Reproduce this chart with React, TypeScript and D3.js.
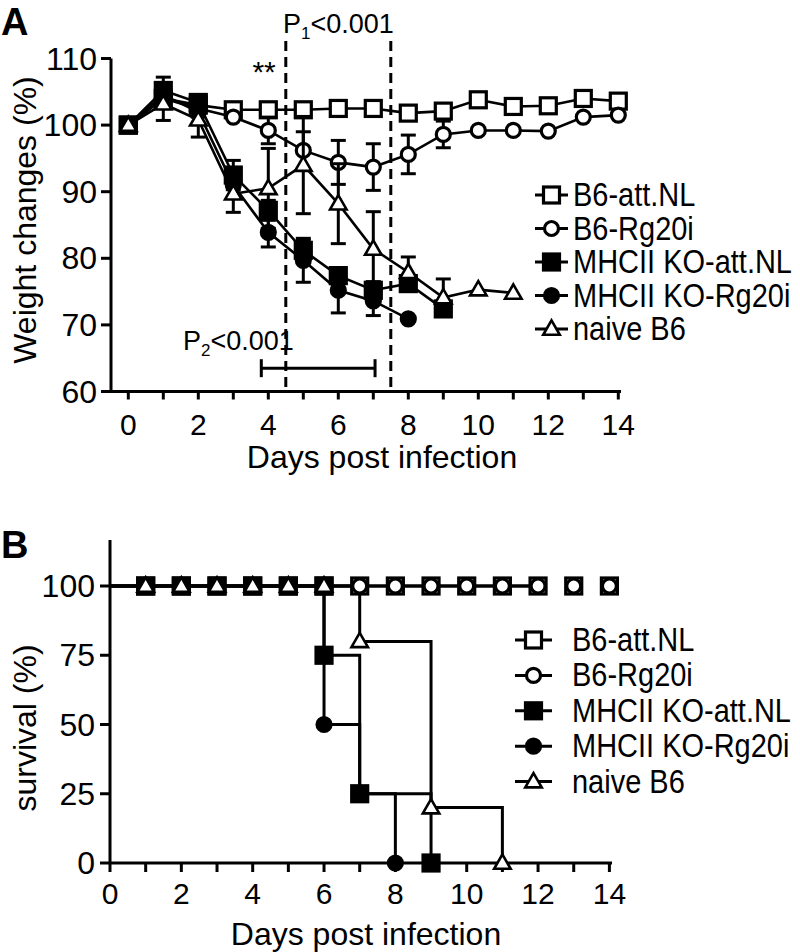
import React from 'react'
import * as d3 from 'd3'

// ---- data ----
const days = [0, 1, 2, 3, 4, 5, 6, 7, 8, 9, 10, 11, 12, 13, 14]
const groups = ['B6-att.NL', 'B6-Rg20i', 'MHCII KO-att.NL', 'MHCII KO-Rg20i', 'naive B6']
const shapes = ['square', 'circle', 'square', 'circle', 'triangle']
const fills = ['#fff', '#fff', '#000', '#000', '#fff']

// panel A: weight changes (%) and SEM, one value per day (null = no data)
const wB6Att = [100, 104, 103, 102.3, 102.3, 102.3, 102.5, 102.5, 101.8, 102.1, 103.8, 102.8, 102.9, 104, 103.6]
const eB6Att = [0.3, 1, 0.8, 0.5, 0.5, 0.5, 0.5, 0.5, 0.5, 0.5, 0.5, 0.5, 0.5, 0.5, 0.5]
const wB6Rg = [100, 104, 102.5, 101.2, 99.2, 96.2, 94.4, 93.7, 95.6, 98.6, 99.2, 99.2, 99.1, 101.2, 101.5]
const eB6Rg = [0.3, 1, 0.8, 0.6, 2, 2.8, 3.3, 3.5, 2.9, 2, 0.5, 0.5, 0.5, 0.5, 0.5]
const wKoAtt = [100, 105.2, 103.4, 92.5, 87.2, 81.2, 77.4, 75.2, 76.2, 72.4, null, null, null, null, null]
const eKoAtt = [0.3, 2, 0.8, 2.2, 1.5, 1.5, 1.2, 1.3, 0.6, 0.5, 0, 0, 0, 0, 0]
const wKoRg = [100, 104.5, 102, 91, 83.9, 79.7, 75.2, 73.6, 70.9, null, null, null, null, null, null]
const eKoRg = [0.3, 1.5, 0.8, 2, 2.2, 3.3, 3.4, 2.2, 0.3, 0, 0, 0, 0, 0, 0]
const wNaive = [100, 103.2, 100.8, 89.7, 90.5, 94, 88.2, 81.4, 77.9, 74.1, 75.3, 74.8, null, null, null]
const eNaive = [0.3, 2.5, 2.6, 2.8, 6, 7.3, 6, 5.6, 2.3, 2.8, 0.5, 0.5, 0, 0, 0]
const weightVals = [wB6Att, wB6Rg, wKoAtt, wKoRg, wNaive]
const weightErrs = [eB6Att, eB6Rg, eKoAtt, eKoRg, eNaive]

const yTicksA = [60, 70, 80, 90, 100, 110]
const xLabelTicks = [0, 2, 4, 6, 8, 10, 12, 14]
const pLineDays = [4.5, 7.5]
const p2Bracket = [3.8, 7.05]

// panel B: Kaplan-Meier steps (day of change, survival %) and plotted symbols
const sB6AttT = [0, 12]; const sB6AttV = [100, 100]
const sB6RgT = [0, 12]; const sB6RgV = [100, 100]
const sKoAttT = [0, 6, 7, 9]; const sKoAttV = [100, 75, 25, 0]
const sKoRgT = [0, 6, 7, 8]; const sKoRgV = [100, 50, 25, 0]
const sNaiveT = [0, 7, 9, 11]; const sNaiveV = [100, 80, 20, 0]
const mB6AttD = [1, 2, 3, 4, 5, 6, 7, 8, 9, 10, 11, 12, 13, 14]; const mB6AttV = mB6AttD.map(() => 100)
const mB6RgD = [1, 2, 3, 4, 5, 6, 7, 8, 9, 10, 11, 12, 13, 14]; const mB6RgV = mB6RgD.map(() => 100)
const mKoAttD = [1, 2, 3, 4, 5, 6, 6, 7, 9]; const mKoAttV = [100, 100, 100, 100, 100, 100, 75, 25, 0]
const mKoRgD = [1, 2, 3, 4, 5, 6, 8]; const mKoRgV = [100, 100, 100, 100, 100, 50, 0]
const mNaiveD = [1, 2, 3, 4, 5, 6, 7, 9, 11]; const mNaiveV = [100, 100, 100, 100, 100, 100, 80, 20, 0]
const survT = [sB6AttT, sB6RgT, sKoAttT, sKoRgT, sNaiveT]
const survV = [sB6AttV, sB6RgV, sKoAttV, sKoRgV, sNaiveV]
const markD = [mB6AttD, mB6RgD, mKoAttD, mKoRgD, mNaiveD]
const markV = [mB6AttV, mB6RgV, mKoAttV, mKoRgV, mNaiveV]
const yTicksB = [0, 25, 50, 75, 100]

const font = "'Liberation Sans', Arial, Helvetica, sans-serif"

const xA = d3.scaleLinear().domain([0, 14]).range([128.3, 618.3])
const yA = d3.scaleLinear().domain([60, 110]).range([391.5, 58.5])
const xB = d3.scaleLinear().domain([0, 14]).range([110, 609.4])
const yB = d3.scaleLinear().domain([0, 100]).range([863, 586])

const triPath = d3.symbol().type(d3.symbolTriangle).size(118)()

function Marker({ shape, fill, x, y }: { shape: string; fill: string; x: number; y: number }) {
  if (shape === 'square')
    return <rect x={x - 8} y={y - 8} width={16} height={16} fill={fill} stroke="#000" strokeWidth={3.2} />
  if (shape === 'circle') return <circle cx={x} cy={y} r={7} fill={fill} stroke="#000" strokeWidth={3.2} />
  return <path d={triPath as string} transform={`translate(${x},${y + 1})`} fill={fill} stroke="#000" strokeWidth={2.6} strokeLinejoin="miter" />
}

function Legend({ y0, step, lineL, lineR, textX }: { y0: number; step: number; lineL: number; lineR: number; textX: number }) {
  return (
    <g>
      {groups.map((g, i) => {
        const y = y0 + i * step
        const cx = (lineL + lineR) / 2
        return (
          <g key={g}>
            <line x1={lineL} x2={lineR} y1={y} y2={y} stroke="#000" strokeWidth={3} />
            <Marker shape={shapes[i]} fill={fills[i]} x={cx} y={y} />
            <text transform={`translate(${textX},${y}) scale(1,1.12)`} dominantBaseline="central" fontSize={29} fontFamily={font}>{g}</text>
          </g>
        )
      })}
    </g>
  )
}

function PanelA() {
  const line = d3.line<number | null>()
    .defined((d) => d !== null)
    .x((_, i) => xA(days[i]))
    .y((d) => yA(d as number))
  return (
    <g>
      <text x={1} y={35} fontSize={38} fontWeight="bold" fontFamily={font}>A</text>
      {/* axes */}
      <line x1={111} x2={111} y1={yA(110)} y2={yA(60)} stroke="#000" strokeWidth={3} />
      <line x1={111} x2={621} y1={yA(60)} y2={yA(60)} stroke="#000" strokeWidth={3} />
      {yTicksA.map((t) => (
        <g key={t}>
          <line x1={101} x2={111} y1={yA(t)} y2={yA(t)} stroke="#000" strokeWidth={3} />
          <text x={97} y={yA(t)} textAnchor="end" dominantBaseline="central" fontSize={32} fontFamily={font}>{t}</text>
        </g>
      ))}
      {days.map((d) => (
        <line key={d} x1={xA(d)} x2={xA(d)} y1={yA(60)} y2={yA(60) + 8} stroke="#000" strokeWidth={3} />
      ))}
      {xLabelTicks.map((d) => (
        <text key={d} x={xA(d)} y={424} textAnchor="middle" dominantBaseline="central" fontSize={30} fontFamily={font}>{d}</text>
      ))}
      <text x={382} y={468} textAnchor="middle" fontSize={32} fontFamily={font}>Days post infection</text>
      <text transform="translate(36,220) rotate(-90)" textAnchor="middle" fontSize={32} fontFamily={font}>Weight changes (%)</text>
      {/* significance annotations */}
      {pLineDays.map((d) => (
        <line key={d} x1={xA(d)} x2={xA(d)} y1={41} y2={yA(60)} stroke="#000" strokeWidth={3} strokeDasharray="10,6" />
      ))}
      <text x={xA(4.42)} y={33} fontSize={27} fontFamily={font}>P<tspan fontSize={17} dy={6}>1</tspan><tspan dy={-6}>&lt;0.001</tspan></text>
      <text x={xA(3.88)} y={yA(106.5)} textAnchor="middle" fontSize={30} fontFamily={font}>**</text>
      <text x={xA(1.56)} y={350} fontSize={27} fontFamily={font}>P<tspan fontSize={17} dy={6}>2</tspan><tspan dy={-6}>&lt;0.001</tspan></text>
      <g stroke="#000" strokeWidth={3}>
        <line x1={xA(p2Bracket[0])} x2={xA(p2Bracket[1])} y1={yA(63.5)} y2={yA(63.5)} />
        {p2Bracket.map((d) => (
          <line key={d} x1={xA(d)} x2={xA(d)} y1={yA(63.5) - 9} y2={yA(63.5) + 9} />
        ))}
      </g>
      {/* series */}
      {weightVals.map((vals, si) => (
        <g key={si}>
          {vals.map((v, i) => {
            const e = weightErrs[si][i]
            if (v === null || e < 0.8) return null
            const x = xA(days[i])
            return (
              <g key={i} stroke="#000" strokeWidth={3}>
                <line x1={x} x2={x} y1={yA(v + e)} y2={yA(v - e)} />
                <line x1={x - 7.5} x2={x + 7.5} y1={yA(v + e)} y2={yA(v + e)} />
                <line x1={x - 7.5} x2={x + 7.5} y1={yA(v - e)} y2={yA(v - e)} />
              </g>
            )
          })}
          <path d={line(vals) as string} fill="none" stroke="#000" strokeWidth={2.6} />
          {vals.map((v, i) =>
            v === null ? null : <Marker key={i} shape={shapes[si]} fill={fills[si]} x={xA(days[i])} y={yA(v)} />
          )}
        </g>
      ))}
      <Legend y0={195} step={33.5} lineL={535} lineR={568} textX={573} />
    </g>
  )
}

function PanelB() {
  const step = (ts: number[], vs: number[]) => {
    const pts: [number, number][] = []
    ts.forEach((t, i) => {
      if (i > 0) pts.push([t, vs[i - 1]])
      pts.push([t, vs[i]])
    })
    return d3.line().x((p) => xB(p[0])).y((p) => yB(p[1]))(pts) as string
  }
  return (
    <g>
      <text x={1} y={558} fontSize={38} fontWeight="bold" fontFamily={font}>B</text>
      <line x1={110} x2={110} y1={540} y2={yB(0)} stroke="#000" strokeWidth={3} />
      <line x1={110} x2={612} y1={yB(0)} y2={yB(0)} stroke="#000" strokeWidth={3} />
      {yTicksB.map((t) => (
        <g key={t}>
          <line x1={100} x2={110} y1={yB(t)} y2={yB(t)} stroke="#000" strokeWidth={3} />
          <text x={95} y={yB(t)} textAnchor="end" dominantBaseline="central" fontSize={32} fontFamily={font}>{t}</text>
        </g>
      ))}
      {days.map((d) => (
        <line key={d} x1={xB(d)} x2={xB(d)} y1={yB(0)} y2={yB(0) + 9} stroke="#000" strokeWidth={3} />
      ))}
      {xLabelTicks.map((d) => (
        <text key={d} x={xB(d)} y={893} textAnchor="middle" dominantBaseline="central" fontSize={30} fontFamily={font}>{d}</text>
      ))}
      <text x={366} y={945} textAnchor="middle" fontSize={32} fontFamily={font}>Days post infection</text>
      <text transform="translate(36,728) rotate(-90)" textAnchor="middle" fontSize={32} fontFamily={font}>survival (%)</text>
      {survT.map((ts, si) => (
        <path key={si} d={step(ts, survV[si])} fill="none" stroke="#000" strokeWidth={3} />
      ))}
      {markD.map((ds, si) => (
        <g key={si}>
          {ds.map((d, i) => (
            <Marker key={i} shape={shapes[si]} fill={fills[si]} x={xB(d)} y={yB(markV[si][i])} />
          ))}
        </g>
      ))}
      <Legend y0={640} step={35.4} lineL={515} lineR={552} textX={572} />
    </g>
  )
}

const App = () => {
  return (
    <svg width={800} height={952} style={{ position: 'absolute', left: 0, top: 0, background: '#fff' }}>
      <rect width={800} height={952} fill="#fff" />
      <PanelA />
      <PanelB />
    </svg>
  )
}

export default App
